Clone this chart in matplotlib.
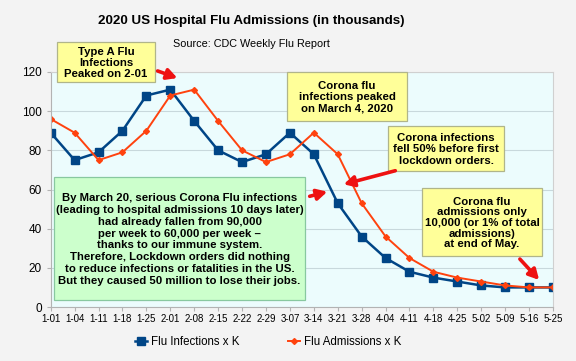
import matplotlib
matplotlib.use("Agg")
import matplotlib.pyplot as plt
from matplotlib.patches import FancyArrowPatch, Rectangle

plt.rcParams["font.family"] = ["Liberation Sans", "DejaVu Sans"]

weeks = ["1-01", "1-04", "1-11", "1-18", "1-25", "2-01", "2-08", "2-15", "2-22", "2-29", "3-07",
         "3-14", "3-21", "3-28", "4-04", "4-11", "4-18", "4-25", "5-02", "5-09", "5-16", "5-25"]
infections = [89, 75, 79, 90, 108, 111, 95, 80, 74, 78, 89,
              78, 53, 36, 25, 18, 15, 13, 11, 10, 10, 10]
admissions = [96, 89, 75, 79, 90, 108, 111, 95, 80, 74, 78,
              89, 78, 53, 36, 25, 18, 15, 13, 11, 10, 10]

BLUE = "#004586"
ORANGE = "#ff420e"
W, H = 576, 361

fig = plt.figure(figsize=(5.76, 3.61), dpi=100, facecolor="#f3f3f3")
ax = fig.add_axes([50.7 / W, 1 - 307 / H, (553 - 50.7) / W, (307 - 72) / H])
ax.set_facecolor("#ecfcfd")

x = range(len(weeks))
ax.plot(x, infections, color=BLUE, marker="s", markersize=5.5, lw=1.8, label="Flu Infections x K")
ax.plot(x, admissions, color=ORANGE, marker="D", markersize=3, lw=1.4, label="Flu Admissions x K")

ax.set_xlim(0, len(weeks) - 1)
ax.set_ylim(0, 120)
ax.set_yticks(range(0, 121, 20))
ax.set_xticks(list(x))
ax.set_xticklabels(weeks, fontsize=7)
ax.tick_params(axis="y", labelsize=8.5, length=3, color="#b3b3b3")
ax.tick_params(axis="x", length=3, color="#b3b3b3", pad=2)
ax.grid(axis="y", color="#c8d8dc", lw=0.8)
ax.set_axisbelow(True)
for s in ("top", "right"):
    ax.spines[s].set_color("#d0d0d0")
for s in ("left", "bottom"):
    ax.spines[s].set_color("#b3b3b3")

fig.text(0.436, 1 - 21 / H, "2020 US Hospital Flu Admissions (in thousands)",
         ha="center", va="center", fontsize=9.6, fontweight="bold")
fig.text(0.436, 1 - 44 / H, "Source: CDC Weekly Flu Report", ha="center", va="center", fontsize=7.8)


def px(xp, yp):
    return (xp / W, 1 - yp / H)


def note(x0, y0, x1, y1, text, fc, ec, ls=1.15):
    fig.add_artist(Rectangle(px(x0, y1), (x1 - x0) / W, (y1 - y0) / H, transform=fig.transFigure,
                             fc=fc, ec=ec, lw=0.9, zorder=5))
    fig.text(*px((x0 + x1) / 2, (y0 + y1) / 2 + 1), text, ha="center", va="center", fontsize=8.2,
             fontweight="bold", linespacing=ls, zorder=6)


def arrow(x0, y0, x1, y1):
    fig.add_artist(FancyArrowPatch(
        px(x0, y0), px(x1, y1), transform=fig.transFigure,
        arrowstyle="-|>,head_length=6,head_width=3.2", color="#ee1111", lw=2.6, zorder=7))


YEL = "#ffff99"
note(57, 42, 155, 82, "Type A Flu\nInfections\nPeaked on 2-01", YEL, "#b0b58a")
note(287, 72, 407, 121, "Corona flu\ninfections peaked\non March 4, 2020", YEL, "#b0b58a")
note(388, 126, 504, 171, "Corona infections\nfell 50% before first\nlockdown orders.", YEL, "#b0b58a")
note(422, 188, 542, 256, "Corona flu\nadmissions only\n10,000 (or 1% of total\nadmissions)\nat end of May.",
     YEL, "#b0b58a", ls=1.08)
note(54, 177, 305, 300, "By March 20, serious Corona Flu infections\n(leading to hospital admissions 10 days later)\n"
     "had already fallen from 90,000\nper week to 60,000 per week \u2013\nthanks to our immune system.\n"
     "Therefore, Lockdown orders did nothing\nto reduce infections or fatalities in the US.\n"
     "But they caused 50 million to lose their jobs.", "#ccffcc", "#88c8a0", ls=1.22)

arrow(155, 70, 180, 79)
arrow(398, 170, 341, 185)
arrow(307, 197, 330, 191)
arrow(518, 257, 541, 282)

fig.legend(loc="center", bbox_to_anchor=(0.465, 1 - 342 / H), ncol=2, frameon=False,
           fontsize=8.3, handlelength=1.1, handletextpad=0.3, columnspacing=4.2)

fig.savefig("out.png", dpi=100, facecolor=fig.get_facecolor())
